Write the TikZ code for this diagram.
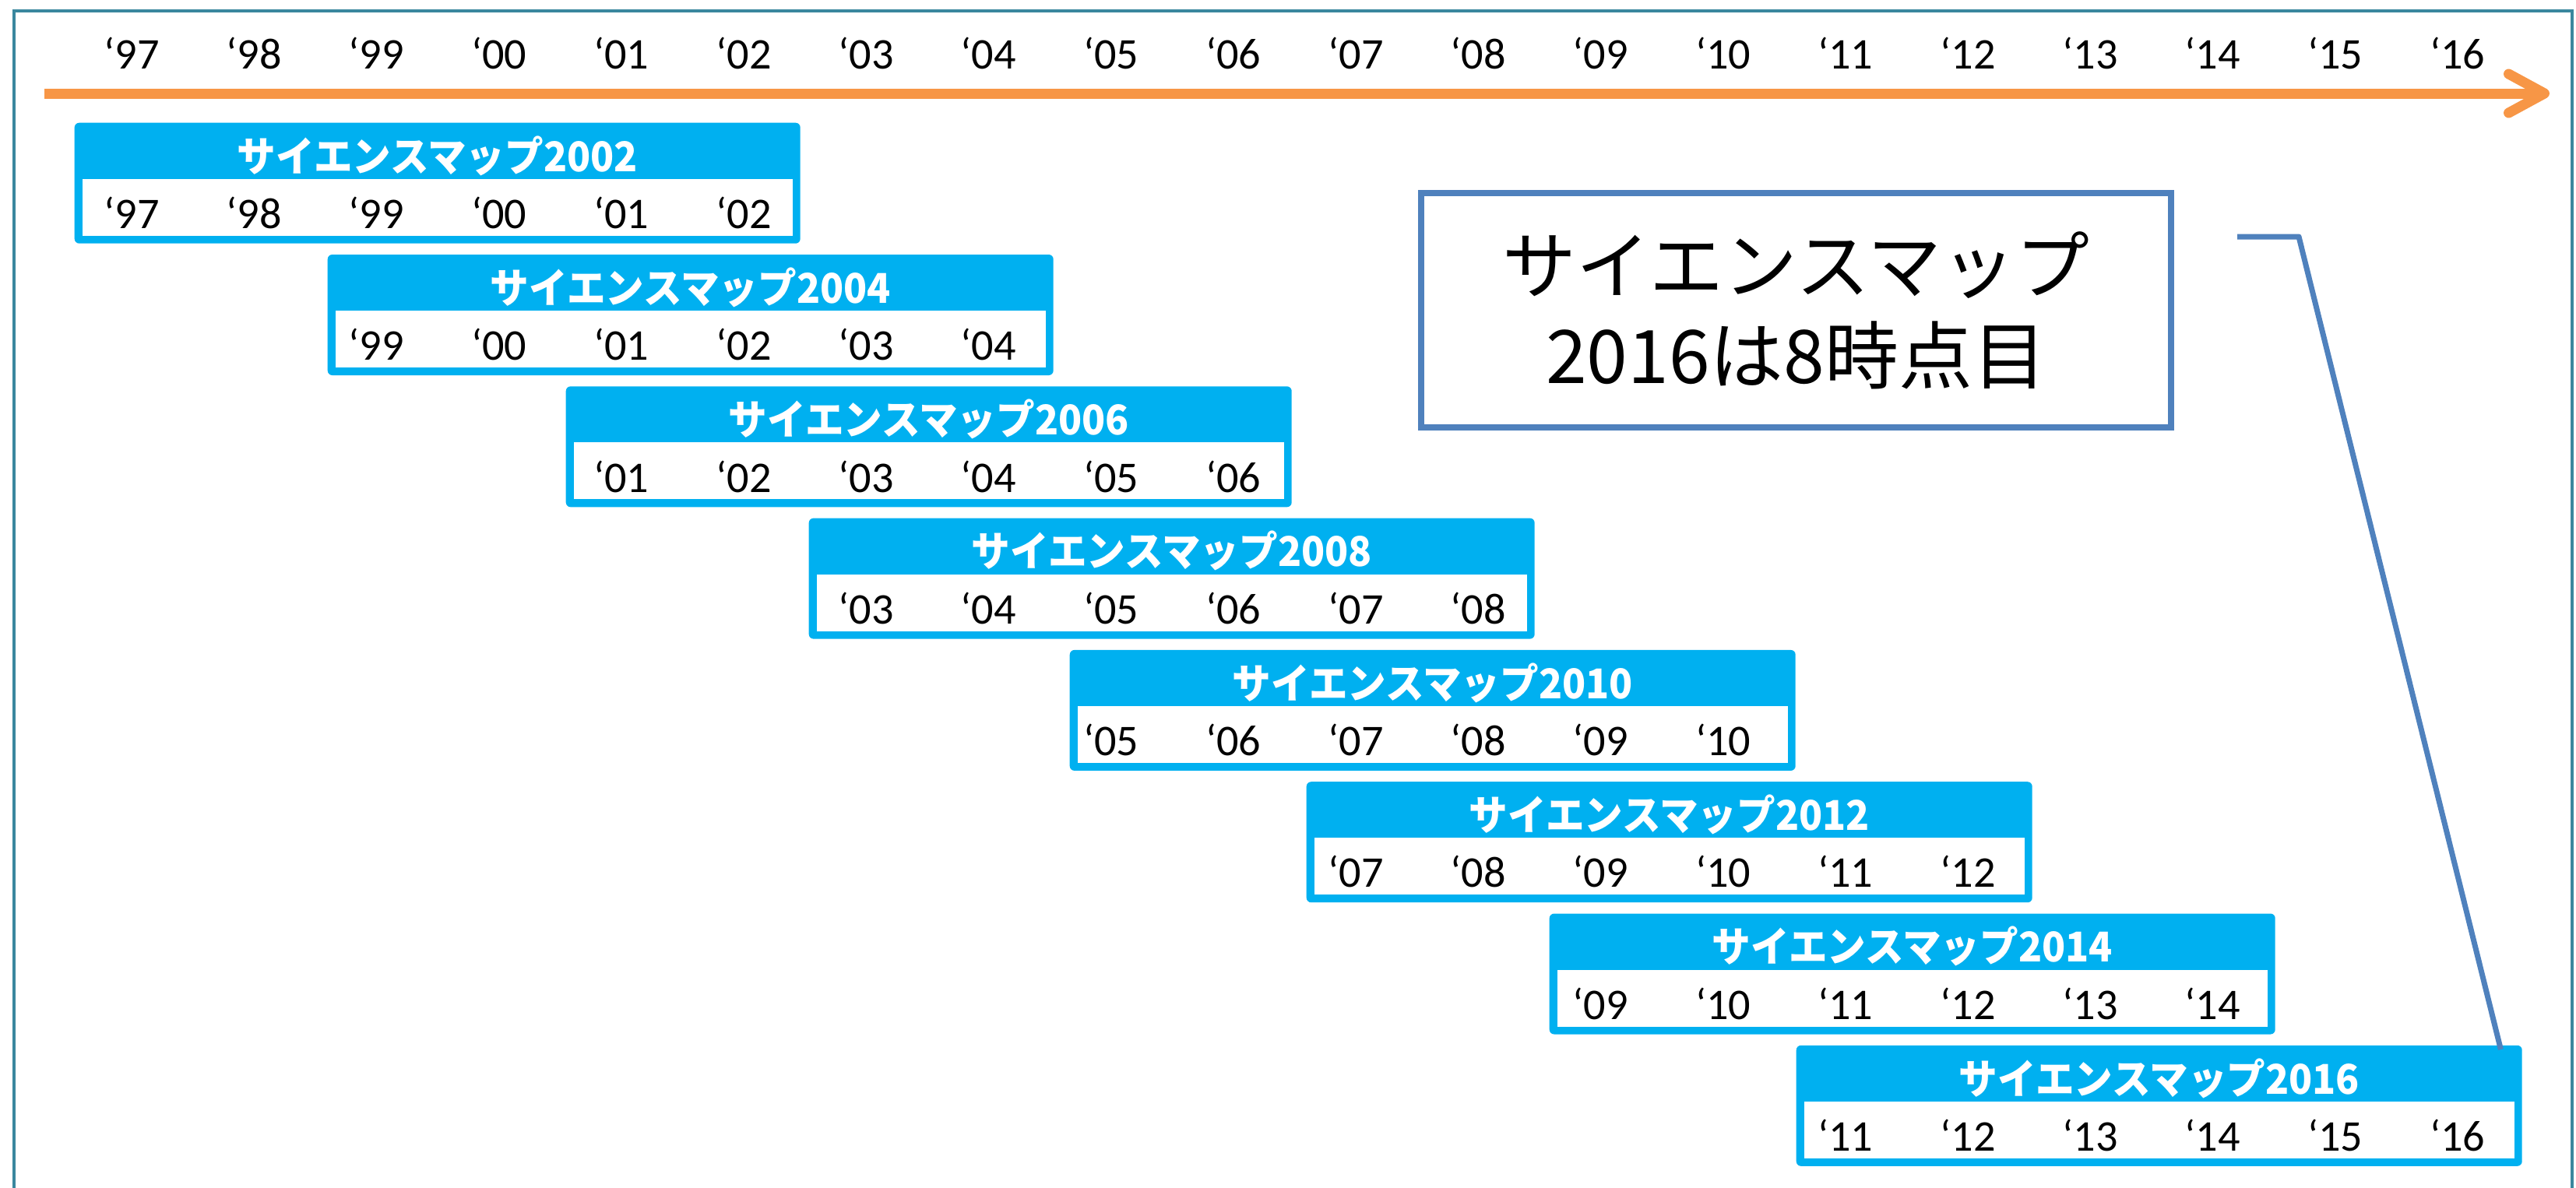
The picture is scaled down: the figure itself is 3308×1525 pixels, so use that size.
\documentclass[tikz,border=0pt]{standalone}
\usepackage{fontspec}
\setmainfont{Carlito}
\newfontfamily\jpfont[FakeStretch=0.94]{Noto Sans CJK JP}
\newfontfamily\jpnote{Noto Sans CJK JP}
\usetikzlibrary{arrows.meta}

\definecolor{mapblue}{RGB}{0,176,240}
\definecolor{axisorange}{RGB}{247,150,70}
\definecolor{noteblue}{RGB}{79,129,189}
\definecolor{framecol}{RGB}{58,135,158}

\begin{document}
\begin{tikzpicture}[x=0.1mm, y=-0.1mm,
  year/.style={font=\fontsize{16}{19}\selectfont, anchor=base, inner sep=0pt},
  map box/.style={fill=mapblue, rounded corners=0.6mm, minimum width=93.2mm,
    minimum height=15.5mm, anchor=north west, inner sep=0pt},
  year band/.style={fill=white, minimum width=91.2mm, minimum height=7.3mm,
    inner sep=0pt, anchor=south},
  map title/.style={text=white, font=\jpfont\bfseries\fontsize{15}{18}\selectfont,
    anchor=base, inner sep=0pt},
  note/.style={draw=noteblue, line width=0.8mm, fill=white, minimum width=96.3mm,
    minimum height=30.1mm, align=center, inner sep=0pt,
    font=\jpnote\fontsize{27}{33}\selectfont},
  timeline/.style={axisorange, line width=1.3mm,
    -{Straight Barb[length=4.6mm, width=5mm, line cap=round, line join=round]}},
  pointer/.style={noteblue, line width=0.7mm, line join=round}]

\useasboundingbox (0,0) rectangle (3308,1525);

% frame
\draw [framecol, line width=0.4mm] (18,1540) |- (3303,14) -- (3303,1540);

% years on the axis
\foreach \yr [count=\i from 0] in {97,98,99,00,01,02,03,04,05,06,07,08,09,10,11,12,13,14,15,16}
  \node [year] (year-\i) at (169+\i*157.2, 88) {‘\yr};

\coordinate (axis-start) at (57,120);
\coordinate (axis-end) at (3274,120);
\draw [timeline] (axis-start) -- (axis-end);

% the eight maps
\foreach \m/\lx [count=\k from 0] in {2002/95, 2004/420, 2006/726, 2008/1038,
    2010/1373, 2012/1677, 2014/1989, 2016/2306} {
  \node [map box] (map-\k) at (\lx, 157+\k*169.3) {};
  \node [year band] (band-\k) at ([yshift=1mm]map-\k.south) {};
  \node [map title] (title-\k) at ([yshift=-6.3mm]map-\k.north) {サイエンスマップ\m};
  \foreach \j in {0,...,5} {
    \pgfmathtruncatemacro\n{2*\k+\j}
    \pgfmathtruncatemacro\yy{mod(97+\n,100)}
    \node [year, yshift=2mm] (map-\k-year-\j) at (year-\n.base |- map-\k.south)
      {‘\ifnum\yy<10 0\fi\yy};
  }
}

% callout
\node [note] (note) at (2306.5,398.5) {サイエンスマップ\\2016は8時点目};

\coordinate (pointer-start) at (2873,304);
\coordinate (pointer-knee) at (2952,304);
\draw [pointer] (pointer-start) -- (pointer-knee)
  -- ([xshift=-2.8mm, yshift=-0.6mm]map-7.north east);

\end{tikzpicture}
\end{document}
